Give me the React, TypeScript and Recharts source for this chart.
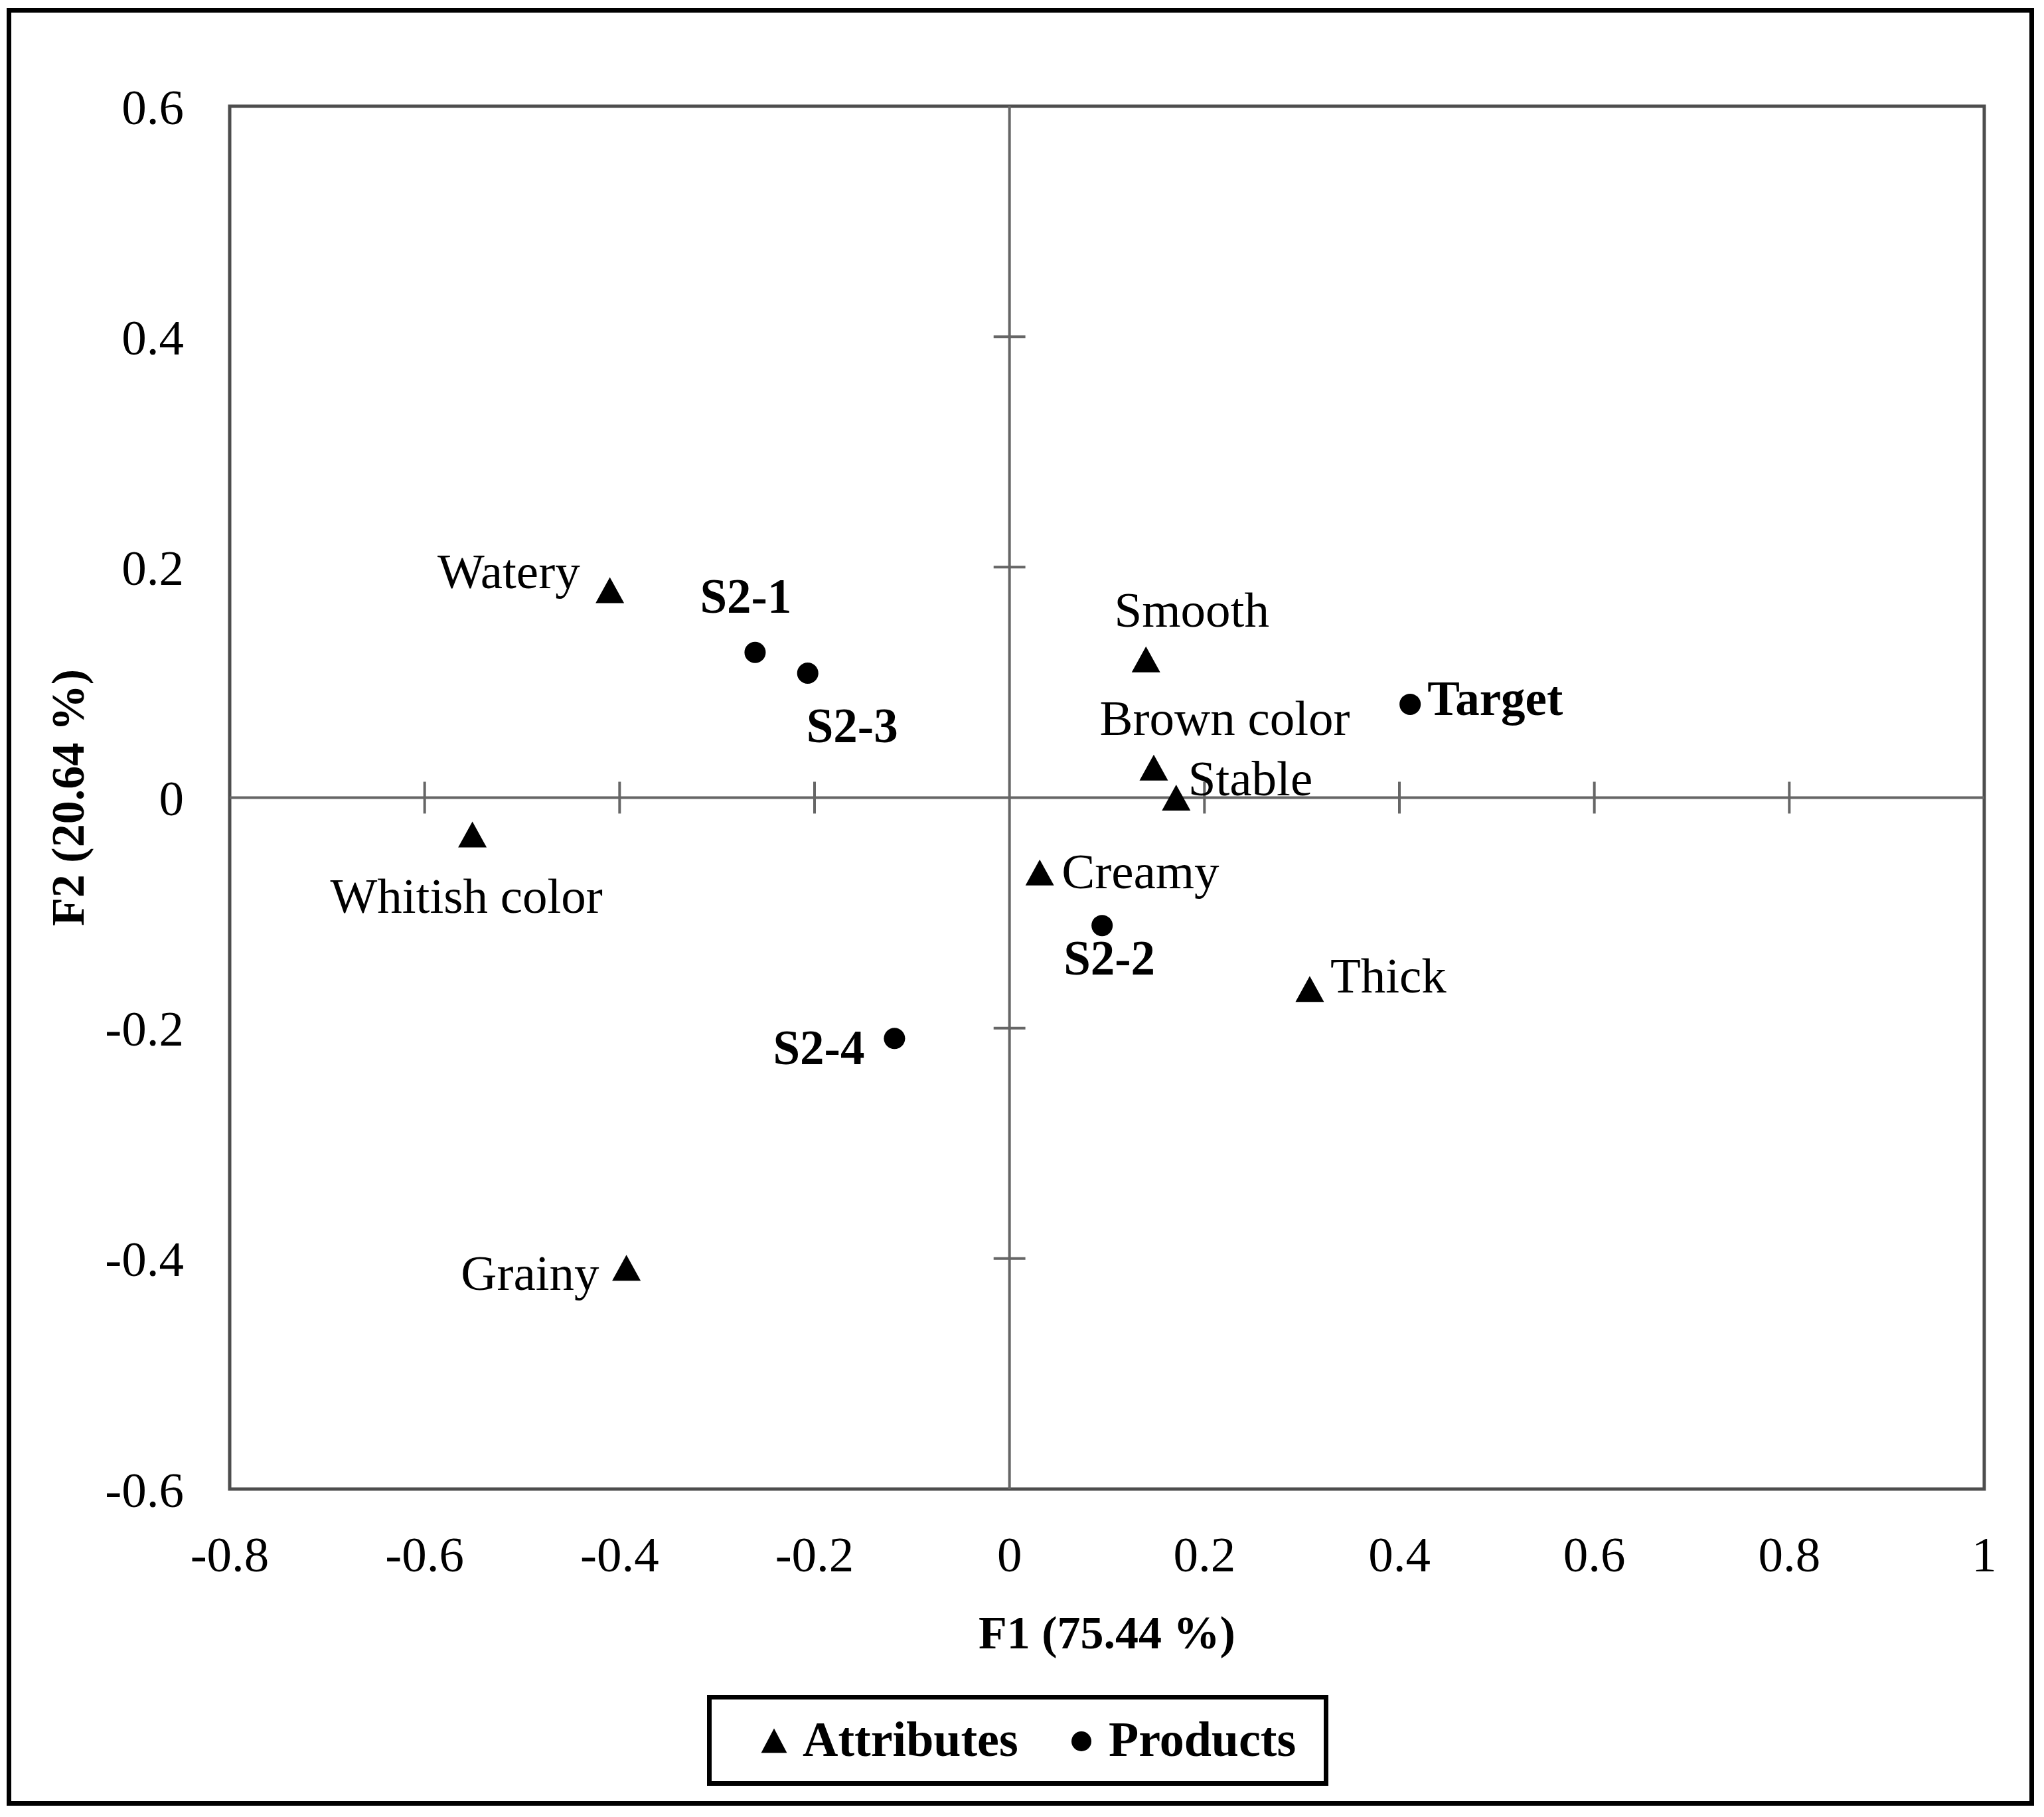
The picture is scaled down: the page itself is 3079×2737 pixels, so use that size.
import React from 'react';
import {
  ScatterChart,
  Scatter,
  XAxis,
  YAxis,
  ReferenceLine,
  ReferenceArea,
} from 'recharts';

// Axis ticks
const xTicks = [-0.8, -0.6, -0.4, -0.2, 0, 0.2, 0.4, 0.6, 0.8, 1];
const yTicks = [-0.6, -0.4, -0.2, 0, 0.2, 0.4, 0.6];

// Attributes (triangles)
const attributeNames = ['Watery', 'Smooth', 'Brown color', 'Stable', 'Whitish color', 'Creamy', 'Thick', 'Grainy'];
const attributeF1 = [-0.41, 0.14, 0.148, 0.171, -0.551, 0.031, 0.308, -0.393];
const attributeF2 = [0.18, 0.12, 0.026, 0.0, -0.032, -0.065, -0.166, -0.408];

// Products (circles)
const productNames = ['S2-1', 'S2-3', 'Target', 'S2-2', 'S2-4'];
const productF1 = [-0.261, -0.207, 0.411, 0.095, -0.118];
const productF2 = [0.126, 0.108, 0.081, -0.111, -0.209];

const attributes = attributeNames.map((name, i) => ({ name, f1: attributeF1[i], f2: attributeF2[i] }));
const products = productNames.map((name, i) => ({ name, f1: productF1[i], f2: productF2[i] }));

// where each label sits relative to its marker (px)
const labelPlacement: Record<string, { anchor: 'start' | 'middle' | 'end'; dx: number; dy: number }> = {
  Watery: { anchor: 'end', dx: -45, dy: -29 },
  Smooth: { anchor: 'middle', dx: 69, dy: -75 },
  'Brown color': { anchor: 'middle', dx: 107, dy: -75 },
  Stable: { anchor: 'start', dx: 18, dy: -29 },
  'Whitish color': { anchor: 'middle', dx: -9, dy: 92 },
  Creamy: { anchor: 'start', dx: 33, dy: -2 },
  Thick: { anchor: 'start', dx: 31, dy: -20 },
  Grainy: { anchor: 'end', dx: -41, dy: 8 },
  'S2-1': { anchor: 'middle', dx: -14, dy: -84 },
  'S2-3': { anchor: 'middle', dx: 67, dy: 79 },
  Target: { anchor: 'start', dx: 26, dy: -8 },
  'S2-2': { anchor: 'middle', dx: 11, dy: 49 },
  'S2-4': { anchor: 'end', dx: -45, dy: 14 },
};

const FONT = '"Liberation Serif", "Times New Roman", serif';
const AXIS_COLOR = '#666666';
const TICK_HALF_X = 0.0163;
const TICK_HALF_Y = 0.0138;

function PointLabel({ cx, cy, name, bold }: { cx: number; cy: number; name: string; bold?: boolean }) {
  const p = labelPlacement[name] ?? { anchor: 'start', dx: 20, dy: 0 };
  return (
    <text
      x={cx + p.dx}
      y={cy + p.dy}
      textAnchor={p.anchor}
      dominantBaseline="central"
      fontFamily={FONT}
      fontSize={bold ? 73 : 75}
      fontWeight={bold ? 'bold' : 'normal'}
      fill="#000"
    >
      {name}
    </text>
  );
}

function TriangleShape(props: any) {
  const { cx, cy, payload } = props;
  return (
    <g>
      <polygon
        points={`${cx},${cy - 19.5} ${cx - 21.5},${cy + 19.5} ${cx + 21.5},${cy + 19.5}`}
        fill="#000"
      />
      <PointLabel cx={cx} cy={cy} name={payload.name} />
    </g>
  );
}

function CircleShape(props: any) {
  const { cx, cy, payload } = props;
  return (
    <g>
      <circle cx={cx} cy={cy} r={16} fill="#000" />
      <PointLabel cx={cx} cy={cy} name={payload.name} bold />
    </g>
  );
}

export default function App() {
  const innerXTicks = xTicks.filter((t) => t !== 0 && t !== xTicks[0] && t !== xTicks[xTicks.length - 1]);
  const innerYTicks = yTicks.filter((t) => t !== 0 && t !== yTicks[0] && t !== yTicks[yTicks.length - 1]);

  return (
    <div style={{ position: 'absolute', left: 0, top: 0, width: 3079, height: 2737, background: '#fff' }}>
      <div
        style={{
          position: 'absolute',
          left: 10,
          top: 12,
          width: 3054,
          height: 2708,
          border: '7px solid #000',
          boxSizing: 'border-box',
        }}
      />
      <div style={{ position: 'absolute', left: 0, top: 0 }}>
        <ScatterChart width={3079} height={2737} margin={{ top: 160, right: 90, left: 0, bottom: 394 }}>
          <XAxis
            type="number"
            dataKey="f1"
            domain={[-0.8, 1]}
            ticks={xTicks}
            interval={0}
            axisLine={false}
            tickLine={false}
            tickSize={0}
            tickMargin={71}
            height={100}
            tick={{ fill: '#000', fontSize: 75, fontFamily: FONT }}
            label={{
              content: (p: any) => {
                const vb = p.viewBox;
                return (
                  <text
                    x={vb.x + vb.width / 2}
                    y={vb.y + 240}
                    textAnchor="middle"
                    fontFamily={FONT}
                    fontSize={70}
                    fontWeight="bold"
                    fill="#000"
                  >
                    F1 (75.44 %)
                  </text>
                );
              },
            }}
          />
          <YAxis
            type="number"
            dataKey="f2"
            domain={[-0.6, 0.6]}
            ticks={yTicks}
            interval={0}
            axisLine={false}
            tickLine={false}
            tickSize={0}
            tickMargin={69}
            width={346}
            tick={{ fill: '#000', fontSize: 75, fontFamily: FONT }}
            label={{
              content: (p: any) => {
                const vb = p.viewBox;
                const cy = vb.y + vb.height / 2;
                return (
                  <text
                    x={102}
                    y={cy}
                    transform={`rotate(-90, 102, ${cy})`}
                    textAnchor="middle"
                    dominantBaseline="central"
                    fontFamily={FONT}
                    fontSize={70}
                    fontWeight="bold"
                    fill="#000"
                  >
                    F2 (20.64 %)
                  </text>
                );
              },
            }}
          />
          <ReferenceArea
            x1={-0.8}
            x2={1}
            y1={-0.6}
            y2={0.6}
            fill="none"
            fillOpacity={0}
            stroke="#4d4d4d"
            strokeWidth={5}
          />
          <ReferenceLine x={0} stroke={AXIS_COLOR} strokeWidth={4} />
          <ReferenceLine y={0} stroke={AXIS_COLOR} strokeWidth={4} />
          {innerXTicks.map((t) => (
            <ReferenceLine
              key={`xt${t}`}
              segment={[{ x: t, y: -TICK_HALF_Y }, { x: t, y: TICK_HALF_Y }]}
              stroke={AXIS_COLOR}
              strokeWidth={4}
            />
          ))}
          {innerYTicks.map((t) => (
            <ReferenceLine
              key={`yt${t}`}
              segment={[{ x: -TICK_HALF_X, y: t }, { x: TICK_HALF_X, y: t }]}
              stroke={AXIS_COLOR}
              strokeWidth={4}
            />
          ))}
          <Scatter name="Attributes" data={attributes} dataKey="f2" shape={TriangleShape} isAnimationActive={false} />
          <Scatter name="Products" data={products} dataKey="f2" shape={CircleShape} isAnimationActive={false} />
        </ScatterChart>
      </div>
      <div
        style={{
          position: 'absolute',
          left: 1065,
          top: 2553,
          width: 936,
          height: 137,
          border: '7px solid #000',
          boxSizing: 'border-box',
        }}
      >
        <svg width={922} height={123} style={{ display: 'block' }}>
          <polygon points="94,43.5 74.5,80.5 113.5,80.5" fill="#000" />
          <text x={137} y={85} fontFamily={FONT} fontSize={74} fontWeight="bold" fill="#000">
            Attributes
          </text>
          <circle cx={557} cy={63} r={15} fill="#000" />
          <text x={598} y={85} fontFamily={FONT} fontSize={74} fontWeight="bold" fill="#000">
            Products
          </text>
        </svg>
      </div>
    </div>
  );
}
